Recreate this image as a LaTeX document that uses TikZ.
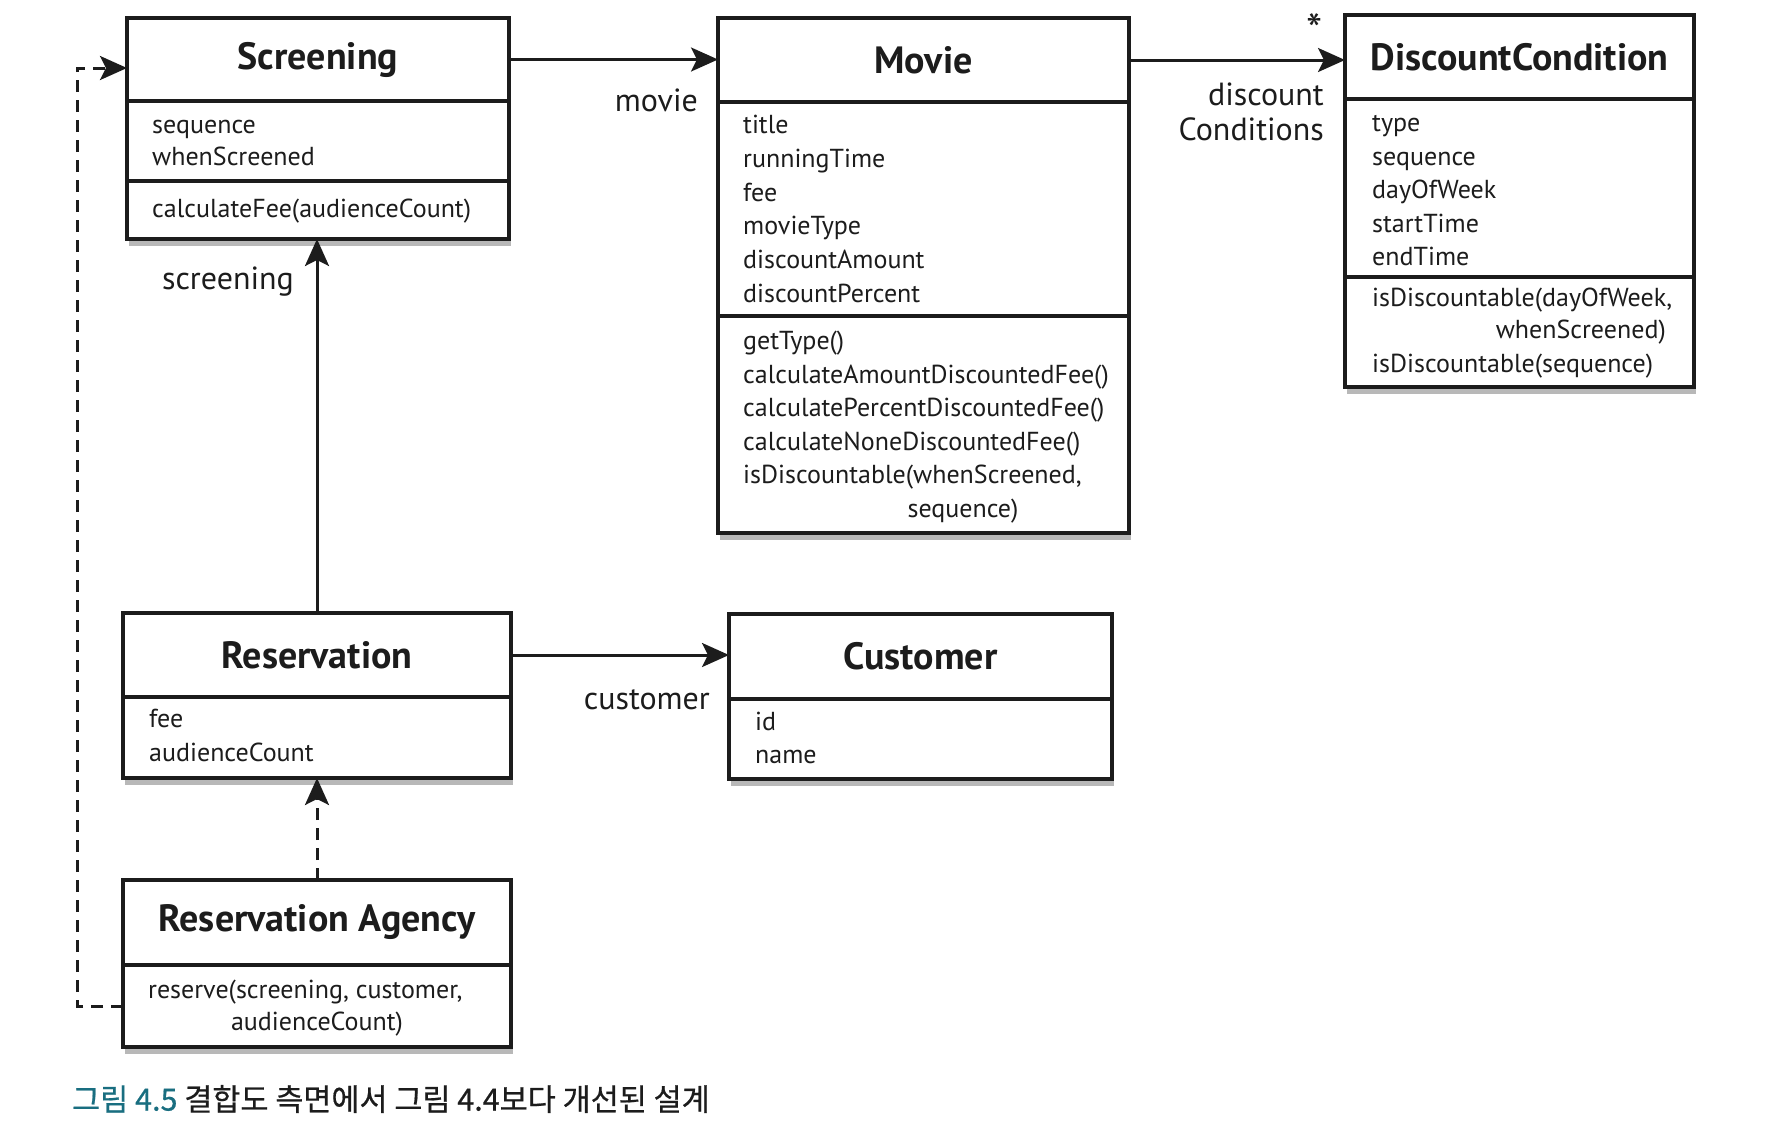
\documentclass[tikz,border=0pt]{standalone}
\usepackage{fontspec}
\setmainfont{PT Sans}
\newfontfamily\krfont[FakeBold=0.6]{Noto Sans CJK KR}
\usepackage{tikz}
\usetikzlibrary{
    positioning,   % Relative positioning
    arrows.meta,   % Modern arrow tips
    shadows,       % Drop shadows under the boxes
    calc           % Coordinate calculations
}
\definecolor{UmlInk}{RGB}{28, 28, 28}
\definecolor{CaptionTeal}{RGB}{25, 110, 128}

\tikzset{
    classpart/.style={draw=UmlInk, line width=3.5pt, fill=white, inner sep=0pt, outer sep=0pt,
        drop shadow={shadow xshift=2pt, shadow yshift=-7pt, fill=black, opacity=0.28}},
    classtitle/.style={font=\fontsize{38}{42}\selectfont\bfseries, text=UmlInk},
    member/.style={anchor=west, font=\fontsize{26}{34}\selectfont, text=UmlInk, inner sep=0pt,
        text height=19pt, text depth=6pt},
    rolelabel/.style={font=\fontsize{32}{35}\selectfont, text=UmlInk, inner sep=0pt, align=right},
    assoc/.style={line width=3pt, draw=UmlInk, -{Stealth[length=27pt, width=24pt, inset=6pt]}},
    depend/.style={assoc, dash pattern=on 12pt off 8pt},
}

\begin{document}
\begin{tikzpicture}[x=1pt, y=-1pt]
    \fill[white] (0,0) rectangle (1792,1120);
    \useasboundingbox (0,0) rectangle (1792,1120);

    % Screening
    \node[classpart, classtitle, minimum width=382pt, minimum height=83pt] (scrHead) at (318,59.5) {Screening};
    \node[classpart, minimum width=382pt, minimum height=80pt] (scrAttr) at (318,141) {};
    \node[classpart, minimum width=382pt, minimum height=58pt] (scrOps) at (318,210) {};
    \foreach \m [count=\i from 0] in {sequence, whenScreened}
        \node[member] (scrAttr-\i) at (152,127+32*\i) {\m};
    \node[member] (scrOp-0) at (152,211) {calculateFee(audienceCount)};

    % Movie
    \node[classpart, classtitle, minimum width=411pt, minimum height=84pt] (movHead) at (923.5,60) {Movie};
    \node[classpart, minimum width=411pt, minimum height=214pt] (movAttr) at (923.5,209) {};
    \node[classpart, minimum width=411pt, minimum height=217pt] (movOps) at (923.5,424.5) {};
    \foreach \m [count=\i from 0] in {title, runningTime, fee, movieType, discountAmount, discountPercent}
        \node[member] (movAttr-\i) at (743,127+33.8*\i) {\m};
    \foreach \m [count=\i from 0] in {getType(), calculateAmountDiscountedFee(), calculatePercentDiscountedFee(),
        calculateNoneDiscountedFee(), {isDiscountable(whenScreened,}}
        \node[member] (movOp-\i) at (743,343+33.6*\i) {\m};
    \node[member, anchor=center] (movOp-5) at (963,511) {sequence)};

    % DiscountCondition
    \node[classpart, classtitle, minimum width=349pt, minimum height=84pt] (dcHead) at (1519.5,57) {DiscountCondition};
    \node[classpart, minimum width=349pt, minimum height=178pt] (dcAttr) at (1519.5,188) {};
    \node[classpart, minimum width=349pt, minimum height=110pt] (dcOps) at (1519.5,332) {};
    \foreach \m [count=\i from 0] in {type, sequence, dayOfWeek, startTime, endTime}
        \node[member] (dcAttr-\i) at (1372,125+33.5*\i) {\m};
    \node[member] (dcOp-0) at (1372,300) {isDiscountable(dayOfWeek,};
    \node[member, anchor=east] (dcOp-1) at (1666,332) {whenScreened)};
    \node[member] (dcOp-2) at (1372,366) {isDiscountable(sequence)};

    % Reservation
    \node[classpart, classtitle, minimum width=388pt, minimum height=84pt] (resHead) at (317,655) {Reservation};
    \node[classpart, minimum width=388pt, minimum height=81pt] (resAttr) at (317,737.5) {};
    \foreach \m [count=\i from 0] in {fee, audienceCount}
        \node[member] (resAttr-\i) at (149,721+34*\i) {\m};

    % Customer
    \node[classpart, classtitle, minimum width=383pt, minimum height=85pt] (cusHead) at (920.5,656.5) {Customer};
    \node[classpart, minimum width=383pt, minimum height=80pt] (cusAttr) at (920.5,739) {};
    \foreach \m [count=\i from 0] in {id, name}
        \node[member] (cusAttr-\i) at (755,724+33*\i) {\m};

    % Reservation Agency
    \node[classpart, classtitle, minimum width=388pt, minimum height=85pt] (agHead) at (317,922.5) {Reservation Agency};
    \node[classpart, minimum width=388pt, minimum height=82pt] (agOps) at (317,1006) {};
    \node[member] (agOp-0) at (148,992) {reserve(screening, customer,};
    \node[member, anchor=center] (agOp-1) at (317,1024) {audienceCount)};

    % Associations
    \draw[assoc] (scrHead.east) -- (scrHead.east -| movHead.west);
    \draw[assoc] (movHead.east) -- (movHead.east -| dcHead.west);
    \draw[assoc] (resHead.north) -- (resHead.north |- scrOps.south);
    \draw[assoc] (resHead.east) -- (resHead.east -| cusHead.west);

    % Dependencies of the agency
    \draw[depend] (agHead.north) -- (agHead.north |- resAttr.south);
    \coordinate (bend) at (77,68);
    \draw[depend] (agOps.west) -| (bend) -- (bend -| scrHead.west);

    % Role names
    \node[rolelabel, anchor=east] (movieRole) at (698,100) {movie};
    \node[rolelabel, anchor=east] (discountRole) at (1324,112) {discount\\Conditions};
    \node[rolelabel] (manyMark) at (1315,30) {\fontsize{46}{46}\selectfont *};
    \node[rolelabel, anchor=east] (screeningRole) at (294,282) {screening};
    \node[rolelabel, anchor=east] (customerRole) at (710,700) {customer};

    % Caption
    \node[anchor=west, inner sep=0pt, font=\krfont\fontsize{30.5}{34}\selectfont, text=UmlInk] (caption) at (72,1099)
        {\textcolor{CaptionTeal}{그림 4.5}\ 결합도 측면에서 그림 4.4보다 개선된 설계};
\end{tikzpicture}
\end{document}
